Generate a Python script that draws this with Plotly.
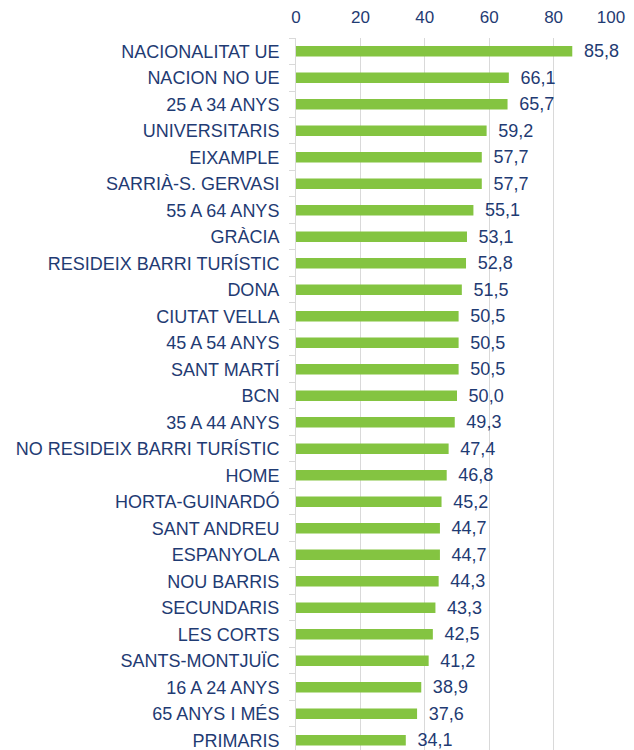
import plotly.graph_objects as go

categories = [
    "NACIONALITAT UE", "NACION NO UE", "25 A 34 ANYS", "UNIVERSITARIS", "EIXAMPLE",
    "SARRIÀ-S. GERVASI", "55 A 64 ANYS", "GRÀCIA", "RESIDEIX BARRI TURÍSTIC", "DONA",
    "CIUTAT VELLA", "45 A 54 ANYS", "SANT MARTÍ", "BCN", "35 A 44 ANYS",
    "NO RESIDEIX BARRI TURÍSTIC", "HOME", "HORTA-GUINARDÓ", "SANT ANDREU", "ESPANYOLA",
    "NOU BARRIS", "SECUNDARIS", "LES CORTS", "SANTS-MONTJUÏC", "16 A 24 ANYS",
    "65 ANYS I MÉS", "PRIMARIS",
]
values = [
    85.8, 66.1, 65.7, 59.2, 57.7,
    57.7, 55.1, 53.1, 52.8, 51.5,
    50.5, 50.5, 50.5, 50.0, 49.3,
    47.4, 46.8, 45.2, 44.7, 44.7,
    44.3, 43.3, 42.5, 41.2, 38.9,
    37.6, 34.1,
]
x_ticks = [0, 20, 40, 60, 80, 100]

labels = ["\u00a0\u2009" + f"{v:.1f}".replace(".", ",") for v in values]
tick_text = [str(t) for t in x_ticks]
tick_text[-1] = tick_text[-1] + "\u00a0\u00a0\u00a0"  # keep last label inside the page
navy = "#1F3B73"
font_family = "Liberation Sans, Arial, sans-serif"

fig = go.Figure(go.Bar(
    x=values, y=categories, orientation="h",
    marker=dict(color="#84C441", line=dict(width=0)),
    text=labels, textposition="outside", constraintext="none",
    textfont=dict(color=navy, size=18, family=font_family),
    cliponaxis=False,
))

n = len(categories)
fig.update_layout(
    width=626, height=742,
    margin=dict(l=288, r=16, t=30, b=0),
    paper_bgcolor="white", plot_bgcolor="white",
    bargap=0.6,
    showlegend=False,
    font=dict(family=font_family, color=navy, size=17),
    xaxis=dict(
        side="top", range=[0, 100], tickvals=x_ticks,
        ticktext=tick_text,
        showgrid=True, gridcolor="#D9D9D9", gridwidth=1,
        zeroline=False, showline=False, ticks="",
        tickfont=dict(size=17, color=navy), ticklabelstandoff=11,
        ticklabeloverflow="allow",
        automargin=False,
    ),
    yaxis=dict(
        categoryorder="array", categoryarray=categories,
        range=[n - 0.63, -0.5],
        showline=True, linecolor="#D9D9D9", linewidth=1,
        ticks="outside", tickson="boundaries", ticklen=6, tickcolor="#D9D9D9",
        showgrid=False, zeroline=False,
        tickfont=dict(size=18, color=navy), ticklabelstandoff=12,
        automargin=False,
    ),
)

fig.write_html(
    "out.html",
    post_script="document.documentElement.style.overflow='hidden';document.body.style.overflow='hidden';",
)
